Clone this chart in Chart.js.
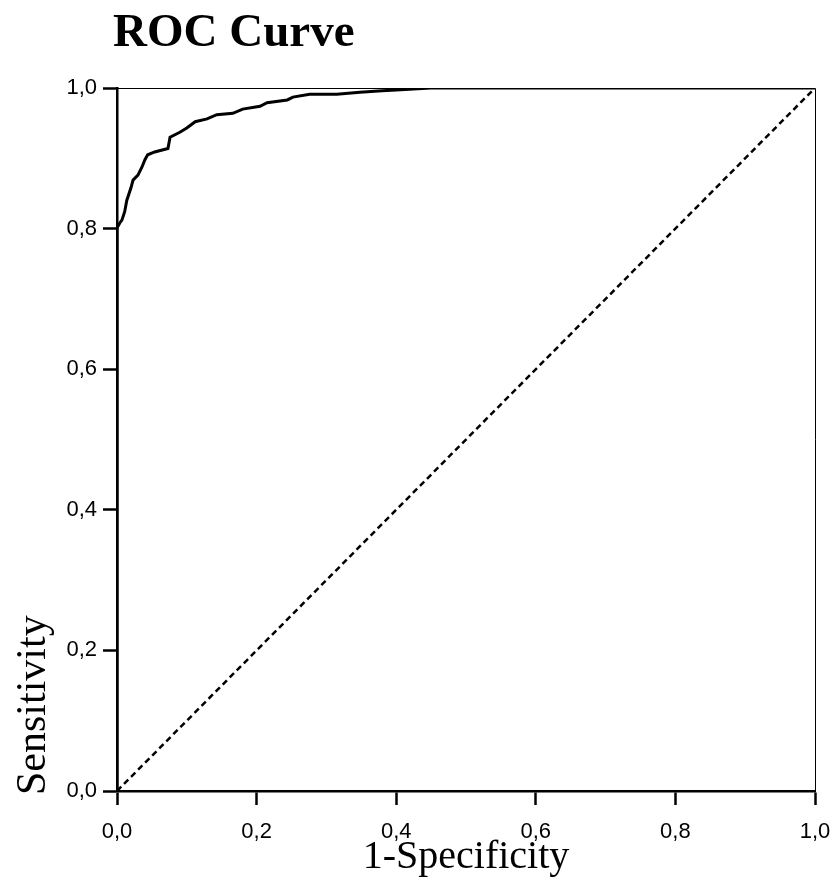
<!DOCTYPE html>
<html>
<head>
<meta charset="utf-8">
<script src="https://cdn.jsdelivr.net/npm/chart.js@4.4.0/dist/chart.umd.min.js"></script>
<style>
  html, body { margin: 0; padding: 0; background: #fff; }
  #wrap { width: 835px; height: 885px; }
</style>
</head>
<body>
<div id="wrap"><canvas id="roc"></canvas></div>
<script>
// ROC curve (1-specificity, sensitivity)
const fpr = [0, 0, 0, 0.004, 0.007, 0.011, 0.014, 0.02, 0.023, 0.03, 0.036, 0.04, 0.044,
  0.054, 0.073, 0.076, 0.09, 0.1, 0.112, 0.129, 0.143, 0.166, 0.18, 0.205, 0.215,
  0.244, 0.252, 0.276, 0.315, 0.348, 0.38, 0.4, 0.45, 1];
const tpr = [0, 0.767, 0.801, 0.808, 0.812, 0.824, 0.84, 0.858, 0.869, 0.876, 0.888, 0.898, 0.905,
  0.909, 0.914, 0.93, 0.937, 0.943, 0.952, 0.956, 0.962, 0.964, 0.97, 0.974, 0.979,
  0.983, 0.987, 0.991, 0.991, 0.994, 0.996, 0.997, 1, 1];
const refX = [0, 1];
const refY = [0, 1];
const tickVals = [0, 0.2, 0.4, 0.6, 0.8, 1.0];

const toPts = (xs, ys) => xs.map((x, i) => ({x: x, y: ys[i]}));

// title, axis titles and the thin frame on top/right
const extras = {
  id: 'extras',
  afterDraw(chart) {
    const c = chart.ctx;
    const a = chart.chartArea;
    c.save();
    c.strokeStyle = '#000';
    c.lineWidth = 1;
    c.beginPath();
    c.moveTo(a.left, a.top + 0.5);
    c.lineTo(a.right + 0.5, a.top + 0.5);
    c.lineTo(a.right + 0.5, a.bottom);
    c.stroke();

    c.fillStyle = '#000';
    c.textBaseline = 'alphabetic';
    c.font = 'bold 47px "Liberation Serif", "Times New Roman", serif';
    c.textAlign = 'left';
    c.fillText('ROC Curve', 113, 46);

    c.font = '40px "Liberation Serif", "Times New Roman", serif';
    c.textAlign = 'center';
    c.fillText('1-Specificity', (a.left + a.right) / 2, 868);

    c.translate(45, 795);
    c.rotate(-Math.PI / 2);
    c.font = '42px "Liberation Serif", "Times New Roman", serif';
    c.textAlign = 'left';
    c.fillText('Sensitivity', 0, 0);
    c.restore();
  }
};

const fmt = v => v.toFixed(1).replace('.', ',');

new Chart(document.getElementById('roc'), {
  type: 'scatter',
  data: {
    datasets: [
      {
        label: 'ROC',
        data: toPts(fpr, tpr),
        showLine: true,
        borderColor: '#000',
        borderWidth: 3,
        pointRadius: 0,
        fill: false,
        tension: 0
      },
      {
        label: 'Reference',
        data: toPts(refX, refY),
        showLine: true,
        borderColor: '#000',
        borderWidth: 2.5,
        borderDash: [6, 4],
        pointRadius: 0,
        fill: false
      }
    ]
  },
  options: {
    responsive: true,
    maintainAspectRatio: false,
    animation: false,
    layout: { padding: { top: 88, right: 20, left: 0, bottom: 0 } },
    plugins: {
      legend: { display: false },
      tooltip: { enabled: false }
    },
    scales: {
      x: {
        type: 'linear',
        min: 0, max: 1,
        afterBuildTicks: s => { s.ticks = tickVals.map(v => ({value: v})); },
        afterFit: s => { s.height = 94; s.paddingLeft = 0; s.paddingRight = 0; },
        border: { color: '#000', width: 2.5 },
        grid: { drawOnChartArea: false, color: '#000', tickLength: 14, tickWidth: 2.5 },
        ticks: {
          color: '#000',
          padding: 14,
          maxRotation: 0,
          font: { family: '"Liberation Sans", Arial, sans-serif', size: 22 },
          callback: v => fmt(v)
        }
      },
      y: {
        type: 'linear',
        min: 0, max: 1,
        afterBuildTicks: s => { s.ticks = tickVals.map(v => ({value: v})); },
        afterFit: s => { s.width = 117; },
        border: { color: '#000', width: 2.5 },
        grid: { drawOnChartArea: false, color: '#000', tickLength: 14, tickWidth: 2.5 },
        ticks: {
          color: '#000',
          padding: 6,
          font: { family: '"Liberation Sans", Arial, sans-serif', size: 22 },
          callback: v => fmt(v)
        }
      }
    }
  },
  plugins: [extras]
});
</script>
</body>
</html>
